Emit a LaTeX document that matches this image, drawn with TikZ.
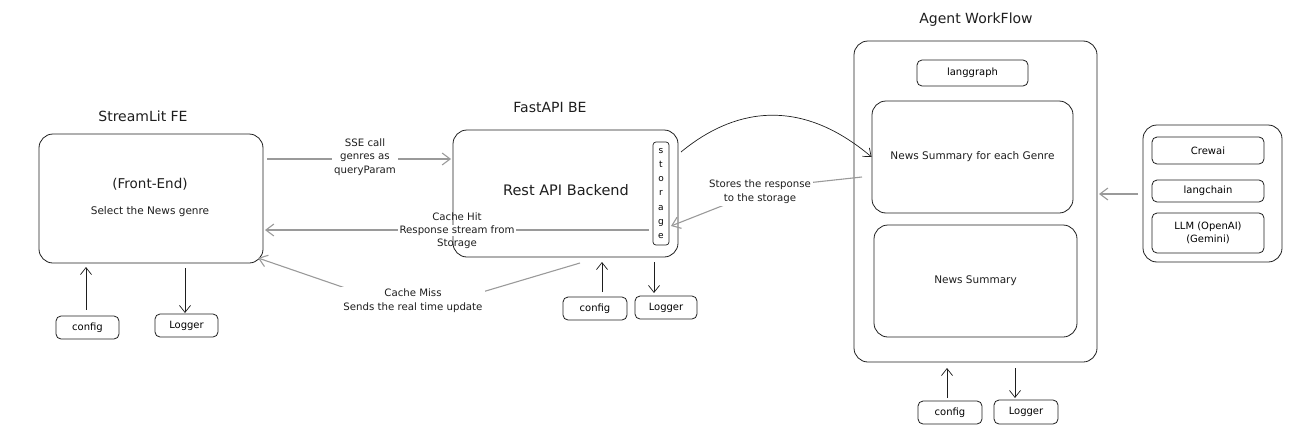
\documentclass[tikz,border=0pt]{standalone}
\usepackage{fontspec}
\setmainfont{DejaVu Sans}
\usetikzlibrary{arrows.meta}
\definecolor{ink}{HTML}{1E1E1E}
\definecolor{soft}{HTML}{9A9A9A}
\tikzset{
  bigbox/.style={draw=ink, line width=0.8pt, rounded corners=14pt},
  smallbox/.style={draw=ink, line width=0.8pt, rounded corners=5pt, font=\fontsize{10}{12}\selectfont},
  ttl/.style={font=\fontsize{14}{16}\selectfont, text=ink},
  txt/.style={font=\fontsize{10.5}{13.5}\selectfont, text=ink, align=center},
  lbl/.style={font=\fontsize{10.2}{13.8}\selectfont, text=ink, align=center, fill=white, inner sep=2pt},
  darr/.style={draw=ink, line width=0.7pt, -{Straight Barb[length=7pt,width=11pt]}},
  garr/.style={draw=soft, line width=1.1pt, -{Straight Barb[length=8pt,width=12pt]}},
}
\begin{document}
\begin{tikzpicture}[x=1pt,y=-1pt]
\useasboundingbox (0,0) rectangle (1296,442);
% ---------- StreamLit FE ----------
\node[ttl] (feT) at (143,116) {StreamLit FE};
\draw[bigbox] (39,134) rectangle (263,263);
\node[font=\fontsize{13.5}{15}\selectfont, text=ink] (feA) at (150,184) {(Front-End)};
\node[txt] (feB) at (150,212) {Select the News genre};
\node[smallbox, minimum width=63pt, minimum height=23pt] (feCfg) at (87.5,327.5) {config};
\node[smallbox, minimum width=63pt, minimum height=23pt] (feLog) at (186.5,325.5) {Logger};
\coordinate (feUpTop) at (86,267);
\coordinate (feDnTop) at (185,268);
\draw[darr] (feCfg.north -| feUpTop) ++(0,-6) -- (feUpTop);
\draw[darr] (feDnTop) -- (185,313);
% ---------- FastAPI BE ----------
\node[ttl] (beT) at (550,107) {FastAPI BE};
\draw[bigbox] (453,130) rectangle (678,257);
\node[font=\fontsize{14.5}{16}\selectfont, text=ink] (beA) at (566,190) {Rest API Backend};
\node[draw=ink, line width=0.7pt, rounded corners=3pt, minimum width=16pt, minimum height=103pt, inner sep=0pt,
      font=\fontsize{9}{14.3}\selectfont, align=center] (stor) at (661,193.5) {s\\t\\o\\r\\a\\g\\e};
\node[smallbox, minimum width=64pt, minimum height=23pt] (beCfg) at (595,308.5) {config};
\node[smallbox, minimum width=62pt, minimum height=23pt] (beLog) at (666,307.5) {Logger};
\coordinate (beUpTop) at (602,262);
\coordinate (beDnTop) at (654,262);
\draw[darr] (602,292) -- (beUpTop);
\draw[darr] (beDnTop) -- (654,293);
% ---------- Agent WorkFlow ----------
\node[ttl] (agT) at (976,20) {Agent WorkFlow};
\draw[bigbox] (854,41) rectangle (1097,362);
\node[smallbox, minimum width=111pt, minimum height=26pt] (lg) at (972.5,73) {langgraph};
\node[draw=ink, line width=0.8pt, rounded corners=14pt, minimum width=201pt, minimum height=112pt, txt] (nsg) at (972.5,157) {News Summary for each Genre};
\node[draw=ink, line width=0.8pt, rounded corners=14pt, minimum width=203pt, minimum height=112pt, txt] (ns) at (975.5,281) {News Summary};
\node[smallbox, minimum width=64pt, minimum height=23pt] (agCfg) at (950,412.5) {config};
\node[smallbox, minimum width=64pt, minimum height=24pt] (agLog) at (1026,412) {Logger};
\coordinate (agUpTop) at (947,368);
\coordinate (agDnTop) at (1015,368);
\draw[darr] (947,398) -- (agUpTop);
\draw[darr] (agDnTop) -- (1015,398);
% ---------- Tools box ----------
\draw[bigbox] (1143,125) rectangle (1282,262);
\node[smallbox, minimum width=112pt, minimum height=27pt] (crew) at (1208,150.5) {Crewai};
\node[smallbox, minimum width=112pt, minimum height=22pt] (lch) at (1208,191) {langchain};
\node[smallbox, minimum width=112pt, minimum height=40pt, align=center, font=\fontsize{10}{13}\selectfont] (llm) at (1208,233) {LLM (OpenAI)\\(Gemini)};
\coordinate (toolsW) at (1138,194);
\coordinate (agE) at (1099,194);
\draw[garr] (toolsW) -- (agE);
% ---------- Connectors ----------
% SSE call
\coordinate (sseS) at (267,159);
\coordinate (sseE) at (451,159);
\draw[garr] (sseS) -- (sseE);
\node[lbl] (sseL) at (365,157) {SSE call\\genres as\\queryParam};
% Cache Hit
\coordinate (hitS) at (649,230);
\coordinate (hitE) at (265,230);
\draw[garr] (hitS) -- (hitE);
\node[lbl, fill=none] (hitL1) at (457,216.5) {Cache Hit};
\node[lbl, inner ysep=0.5pt] (hitL2) at (457,230.5) {Response stream from};
\node[lbl, fill=none] (hitL3) at (457,244) {Storage};
% Cache Miss
\coordinate (missS) at (580,263);
\coordinate (missM) at (415,312);
\coordinate (missE) at (258,258);
\draw[garr] (missS) -- (missM) -- (missE);
\node[lbl] (missL) at (413,301) {Cache Miss\\Sends the real time update};
% Stores the response
\coordinate (stS) at (862,177);
\coordinate (stM) at (770,187);
\coordinate (stE) at (671,226);
\draw[garr] (stS) -- (stM) -- (stE);
\node[lbl] (stL) at (760,192) {Stores the response\\to the storage};
% Curved arrow BE -> Agent
\coordinate (curveS) at (681,152);
\draw[darr] (curveS) .. controls (722,118) and (790,88) .. (nsg.west);
\end{tikzpicture}
\end{document}
